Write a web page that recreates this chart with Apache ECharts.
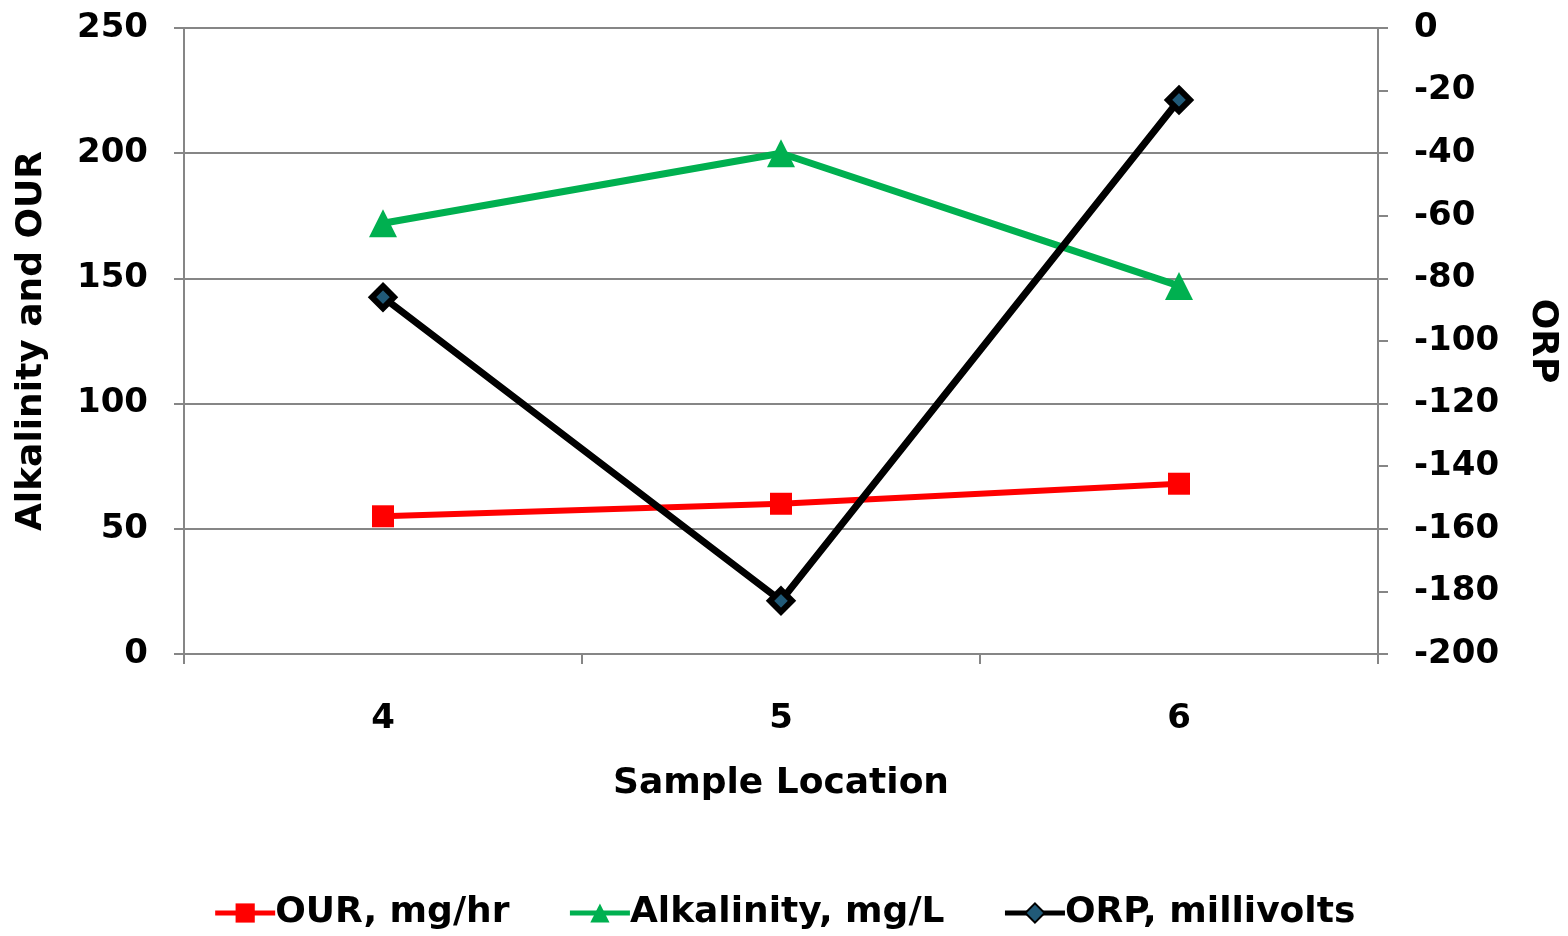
<!DOCTYPE html>
<html>
<head>
<meta charset="utf-8">
<script src="https://cdn.jsdelivr.net/npm/echarts@6/dist/echarts.min.js"></script>
<style>
  html, body { margin: 0; padding: 0; background: #fff; }
  #chart { width: 1568px; height: 936px; }
</style>
</head>
<body>
<div id="chart"></div>
<script>
// Sample locations along the process
const locations = ['4', '5', '6'];
// Oxygen uptake rate, mg/hr
const ourValues = [55, 60, 68];
// Alkalinity, mg/L
const alkalinityValues = [172, 200, 147];
// Oxidation-reduction potential, millivolts
const orpValues = [-86, -183, -23];

const FONT = '"DejaVu Sans", "Liberation Sans", Arial, sans-serif';
const AXIS_GRAY = '#868686';
const tickText = { fontFamily: FONT, fontWeight: 'bold', fontSize: 34, color: '#000' };
const nameText = { fontFamily: FONT, fontWeight: 'bold', fontSize: 36, color: '#000' };

const chart = echarts.init(document.getElementById('chart'), null, { renderer: 'canvas' });

chart.setOption({
  backgroundColor: '#fff',
  animation: false,
  grid: { left: 184, right: 180, top: 28, bottom: 282, containLabel: false },
  legend: {
    bottom: 0,
    left: 'center',
    itemWidth: 60,
    itemHeight: 24,
    itemGap: 58,
    lineStyle: { width: 5 },
    textStyle: Object.assign({}, nameText, { padding: [0, 0, 0, -5] }),
    data: ['OUR, mg/hr', 'Alkalinity, mg/L', 'ORP, millivolts']
  },
  xAxis: {
    type: 'category',
    data: locations,
    boundaryGap: true,
    name: 'Sample Location',
    nameLocation: 'middle',
    nameGap: 112,
    nameTextStyle: nameText,
    axisLine: { show: true, lineStyle: { color: AXIS_GRAY, width: 2 } },
    axisTick: { show: true, length: 10, lineStyle: { color: AXIS_GRAY, width: 2 } },
    axisLabel: Object.assign({ margin: 48 }, tickText),
    splitLine: { show: false }
  },
  yAxis: [
    {
      type: 'value',
      min: 0,
      max: 250,
      interval: 50,
      position: 'left',
      name: 'Alkalinity and OUR',
      nameLocation: 'middle',
      nameRotate: 90,
      nameGap: 134,
      nameTextStyle: nameText,
      axisLine: { show: true, lineStyle: { color: AXIS_GRAY, width: 2 } },
      axisTick: { show: true, length: 10, lineStyle: { color: AXIS_GRAY, width: 2 } },
      axisLabel: Object.assign({ margin: 36 }, tickText),
      splitLine: { show: true, lineStyle: { color: AXIS_GRAY, width: 2 } }
    },
    {
      type: 'value',
      min: -200,
      max: 0,
      interval: 20,
      position: 'right',
      name: 'ORP',
      nameLocation: 'middle',
      nameRotate: -90,
      nameGap: 146,
      nameTextStyle: nameText,
      axisLine: { show: true, lineStyle: { color: AXIS_GRAY, width: 2 } },
      axisTick: { show: true, length: 10, lineStyle: { color: AXIS_GRAY, width: 2 } },
      axisLabel: Object.assign({ margin: 36 }, tickText),
      splitLine: { show: false }
    }
  ],
  series: [
    {
      name: 'OUR, mg/hr',
      type: 'line',
      yAxisIndex: 0,
      data: ourValues,
      symbol: 'rect',
      symbolSize: 22,
      lineStyle: { color: '#ff0000', width: 6 },
      itemStyle: { color: '#ff0000', borderColor: '#ff0000', borderWidth: 0 },
      z: 3
    },
    {
      name: 'Alkalinity, mg/L',
      type: 'line',
      yAxisIndex: 0,
      data: alkalinityValues,
      symbol: 'triangle',
      symbolSize: 28,
      lineStyle: { color: '#00b050', width: 7 },
      itemStyle: { color: '#00b050', borderColor: '#00b050', borderWidth: 0 },
      z: 3
    },
    {
      name: 'ORP, millivolts',
      type: 'line',
      yAxisIndex: 1,
      data: orpValues,
      symbol: 'diamond',
      symbolSize: 22,
      lineStyle: { color: '#000000', width: 7 },
      itemStyle: { color: '#215a78', borderColor: '#000000', borderWidth: 6 },
      z: 4
    }
  ]
});
</script>
</body>
</html>
